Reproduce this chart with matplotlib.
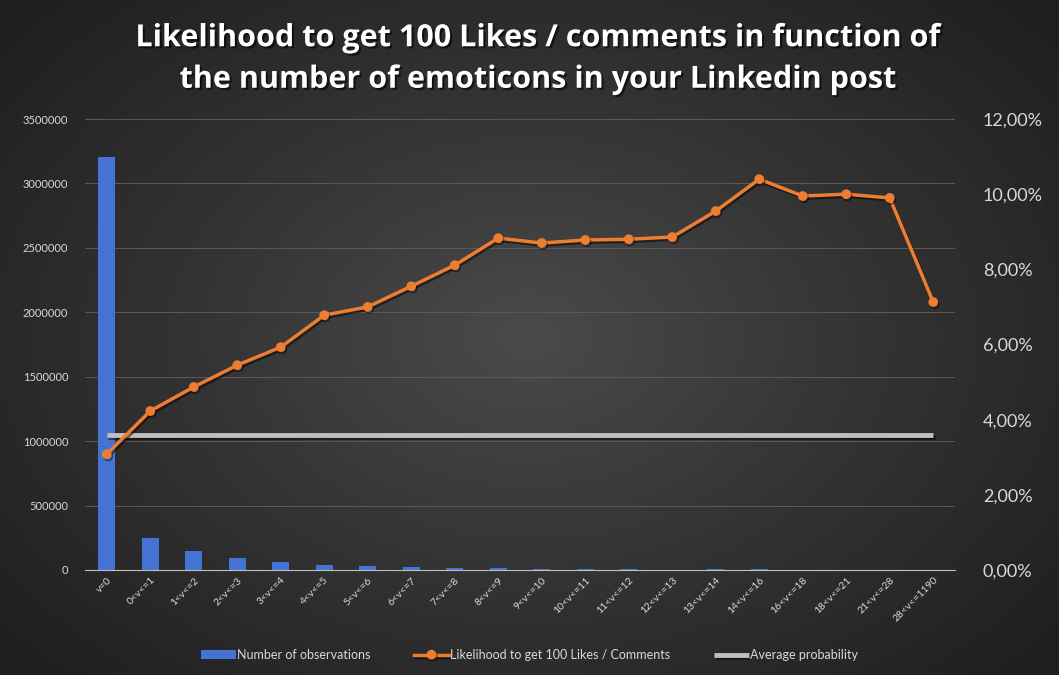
import matplotlib
matplotlib.use("Agg")
import matplotlib.pyplot as plt
import matplotlib.patheffects as pe
from matplotlib.ticker import FuncFormatter
import numpy as np

categories = ["v=0", "0<v<=1", "1<v<=2", "2<v<=3", "3<v<=4", "4<v<=5", "5<v<=6",
              "6<v<=7", "7<v<=8", "8<v<=9", "9<v<=10", "10<v<=11", "11<v<=12",
              "12<v<=13", "13<v<=14", "14<v<=16", "16<v<=18", "18<v<=21",
              "21<v<=28", "28<v<=1190"]
observations = [3205000, 248000, 148000, 93000, 62000, 40000, 31000, 23000, 16000, 14000,
                7000, 5000, 4000, 3000, 4000, 4000, 3000, 3000, 2000, 3000]
likelihood = [3.08, 4.23, 4.87, 5.45, 5.93, 6.78, 7.0, 7.55, 8.11, 8.83,
              8.70, 8.78, 8.80, 8.86, 9.55, 10.40, 9.95, 10.0, 9.90, 7.13]
average_prob = 3.59

plt.rcParams['font.family'] = ['Lato', 'DejaVu Sans']
txt = "#d9d9d9"

fig = plt.figure(figsize=(10.59, 6.75), dpi=100)

# dark radial background
bg = fig.add_axes([0, 0, 1, 1])
yy, xx = np.mgrid[-1:1:300j, -1:1:470j]
r = np.sqrt((xx / 1.0) ** 2 + (yy / 1.1) ** 2)
bg.imshow(np.clip(r, 0, 1.3), cmap=matplotlib.colors.LinearSegmentedColormap.from_list(
    "bg", ["#4a4a4a", "#333333", "#1f1f1f"]), aspect="auto", extent=[0, 1, 0, 1])
bg.axis("off")

ax = fig.add_axes([85 / 1059, 105 / 675, 870 / 1059, 451 / 675])
ax.patch.set_alpha(0)
x = np.arange(len(categories))
ax.bar(x, observations, width=0.4, color="#4473d4", zorder=2, label="Number of observations")
ax.set_ylim(0, 3500000)
ax.set_xlim(-0.5, len(categories) - 0.5)
ax.set_yticks(np.arange(0, 3500001, 500000))
ax.yaxis.set_major_formatter(FuncFormatter(lambda v, p: f"{int(v)}"))
ax.grid(axis="y", color="#5a5a5a", linewidth=0.7, zorder=0)
ax.set_axisbelow(True)
for s in ["top", "right", "left"]:
    ax.spines[s].set_visible(False)
ax.spines["bottom"].set_color("#bfbfbf")
ax.tick_params(axis="y", length=0, pad=12, labelsize=8, labelcolor=txt)
ax.tick_params(axis="x", length=0, pad=4, labelsize=7.5, labelcolor=txt)
ax.set_xticks(x)
ax.set_xticklabels(categories, rotation=45, ha="right", rotation_mode="anchor")

ax2 = ax.twinx()
ax2.set_ylim(0, 12)
ax2.set_yticks(np.arange(0, 12.01, 2))
ax2.yaxis.set_major_formatter(FuncFormatter(lambda v, p: f"{v:.2f}".replace(".", ",") + "%"))
for s in ax2.spines.values():
    s.set_visible(False)
ax2.tick_params(axis="y", length=0, pad=20, labelsize=13, labelcolor=txt)
shadow = [pe.SimpleLineShadow(offset=(1, -1.5), shadow_color="black", alpha=0.5), pe.Normal()]
ax2.plot([x[0], x[-1]], [average_prob, average_prob], color="#bfbfbf", linewidth=3.5,
         solid_capstyle="butt", path_effects=shadow, label="Average probability", zorder=3)
ax2.plot(x, likelihood, color="#ed7d31", linewidth=2.5, marker="o", markersize=6,
         path_effects=shadow, label="Likelihood to get 100 Likes / Comments", zorder=4)

h1, l1 = ax.get_legend_handles_labels()
h2, l2 = ax2.get_legend_handles_labels()
handles = [h1[0], h2[1], h2[0]]
labels = [l1[0], l2[1], l2[0]]
leg = fig.legend(handles, labels, loc="center", bbox_to_anchor=(0.5, 1 - 655 / 675), ncol=3,
                 frameon=False, fontsize=9, labelcolor=txt, handlelength=2.8,
                 handletextpad=0.1, columnspacing=3.5)

fig.text(0.507, 1 - 59 / 675,
         "Likelihood to get 100 Likes / comments in function of\nthe number of emoticons in your Linkedin post",
         ha="center", va="center", fontsize=22, fontweight="bold", color="white",
         family=["Open Sans", "DejaVu Sans"], linespacing=1.5,
         path_effects=[pe.withSimplePatchShadow(offset=(1.5, -1.5), shadow_rgbFace="black", alpha=0.6)])

fig.savefig("out.png", dpi=100)
